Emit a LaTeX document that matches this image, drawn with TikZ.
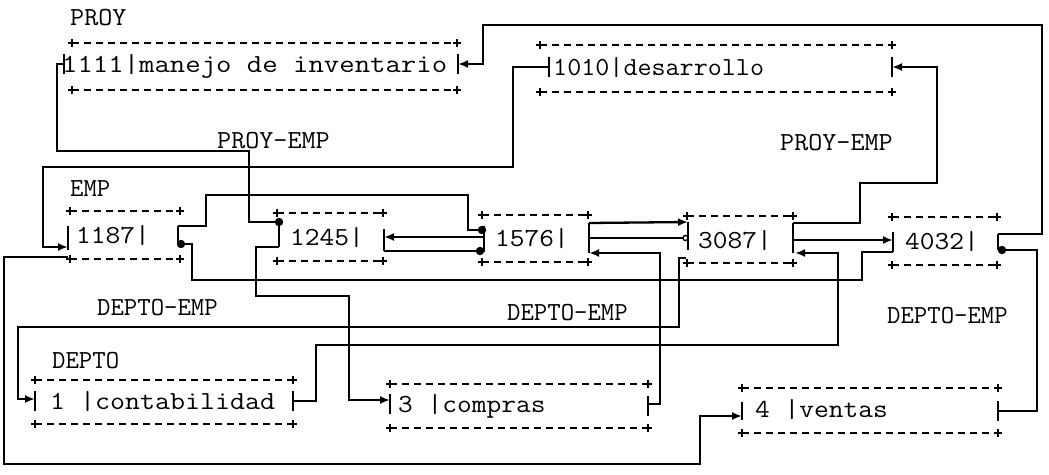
\documentclass[tikz,border=0pt]{standalone}
\usetikzlibrary{arrows.meta}
\newcommand\frm[4]{%
  \draw[dl] (#1,#3) -- (#2,#3) (#1,#4) -- (#2,#4);
  \foreach \xx in {#1,#2}{\foreach \yy in {#3,#4}{%
    \draw[pl] (\xx-4,\yy) -- (\xx+4,\yy) (\xx,\yy-4) -- (\xx,\yy+4);}}}
\newcommand\sx[2]{\scalebox{#1}[1]{#2}}
\begin{document}
\begin{tikzpicture}[x=1pt,y=-1pt,
  conn/.style={line width=2.3pt},
  tick/.style={line width=1.6pt},
  dl/.style={line width=1.4pt, dash pattern=on 7pt off 5pt},
  pl/.style={line width=1.3pt},
  arr/.style={-{Latex[length=10pt,width=8pt]}},
  lbl/.style={inner sep=0pt, anchor=base west, font=\fontsize{26}{28}\selectfont\ttfamily}]
\useasboundingbox[fill=white] (0,0) rectangle (1049,474);

% ---------- texts ----------
\node[lbl] (tproy) at (70,25) {\sx{1.05}{PROY}};
\node[lbl] (t1111) at (62,72) {\sx{1.15}{1111|manejo de inventario}};
\node[lbl] (t1010) at (553,75) {\sx{1.05}{1010|desarrollo}};
\node[lbl] (tpe1) at (217,148) {\sx{1.05}{PROY-EMP}};
\node[lbl] (tpe2) at (780,150) {\sx{1.05}{PROY-EMP}};
\node[lbl] (temp) at (70,196) {\sx{1.0}{EMP}};
\node[lbl] (t1187) at (76,243) {\sx{1.1}{1187|}};
\node[lbl] (t1245) at (290,245) {\sx{1.1}{1245|}};
\node[lbl] (t1576) at (495,246) {\sx{1.1}{1576|}};
\node[lbl] (t3087) at (698,248) {\sx{1.1}{3087|}};
\node[lbl] (t4032) at (905,249) {\sx{1.1}{4032|}};
\node[lbl] (tde1) at (97,315) {\sx{1.0}{DEPTO-EMP}};
\node[lbl] (tde2) at (507,320) {\sx{1.0}{DEPTO-EMP}};
\node[lbl] (tde3) at (887,323) {\sx{1.0}{DEPTO-EMP}};
\node[lbl] (tdepto) at (52,368) {\sx{1.0}{DEPTO}};
\node[lbl] (td1) at (50,409) {\sx{1.12}{1 |contabilidad}};
\node[lbl] (td3) at (398,412) {\sx{1.1}{3 |compras}};
\node[lbl] (td4) at (755,417) {\sx{1.1}{4 |ventas}};

% ---------- dashed frames ----------
\frm{72}{457}{43}{90}
\frm{540}{892}{45}{92}
\frm{70}{180}{211}{259}
\frm{277}{383}{213}{261}
\frm{482}{588}{215}{262}
\frm{687}{793}{216}{263}
\frm{892}{997}{217}{265}
\frm{35}{293}{380}{424}
\frm{390}{648}{384}{428}
\frm{742}{998}{388}{433}

% ---------- side ticks ----------
\draw[tick] (64,54) -- (64,74);   \draw[tick] (458,54) -- (458,74);
\draw[tick] (549,57) -- (549,77); \draw[tick] (892,57) -- (892,77);
\draw[tick] (68,226) -- (68,250); \draw[tick] (178,226) -- (178,244);
\draw[tick] (279,220) -- (279,247); \draw[tick] (384,229) -- (384,251);
\draw[tick] (484,226) -- (484,252); \draw[tick] (589,223) -- (589,253);
\draw[tick] (688,222) -- (688,250); \draw[tick] (793,223) -- (793,253);
\draw[tick] (893,232) -- (893,252); \draw[tick] (998,234) -- (998,250);
\draw[tick] (35,391) -- (35,411);   \draw[tick] (293,391) -- (293,411);
\draw[tick] (390,394) -- (390,414); \draw[tick] (648,396) -- (648,416);
\draw[tick] (742,402) -- (742,420); \draw[tick] (998,401) -- (998,421);

% ---------- attach points ----------
\coordinate (a1111L) at (64,64);   \coordinate (a1111R) at (458,64);
\coordinate (a1010L) at (549,67);  \coordinate (a1010R) at (892,67);
\coordinate (a1187L) at (68,247);  \coordinate (a1187Lb) at (68,257);
\coordinate (a1187Rt) at (178,226); \coordinate (a1187Rb) at (181,244);
\coordinate (a1245Lt) at (279,222); \coordinate (a1245Lb) at (279,247);
\coordinate (a1245Rm) at (384,237); \coordinate (a1245Rb) at (384,251);
\coordinate (a1576Lt) at (482,230); \coordinate (a1576Lm) at (484,237);
\coordinate (a1576Lb) at (480,251);
\coordinate (a1576Rt) at (589,223); \coordinate (a1576Rm) at (589,238);
\coordinate (a1576Rb) at (589,253);
\coordinate (a3087Lt) at (688,222); \coordinate (a3087Lm) at (688,238);
\coordinate (a3087Lb) at (686,258);
\coordinate (a3087Rt) at (793,223); \coordinate (a3087Rm) at (793,240);
\coordinate (a3087Rb) at (795,253);
\coordinate (a4032Lm) at (893,240); \coordinate (a4032Lb) at (893,252);
\coordinate (a4032Rt) at (998,234); \coordinate (a4032Rb) at (1002,250);
\coordinate (a1L) at (35,399);  \coordinate (a1R) at (293,401);
\coordinate (a3L) at (390,400); \coordinate (a3R) at (648,404);
\coordinate (a4L) at (742,416); \coordinate (a4R) at (998,411);

% ---------- connectors ----------
\draw[conn] (a1111L) -- (57,64) -- (57,151) -- (249,151) -- (249,222) -- (a1245Lt);
\fill (a1245Lt) circle (4.2);
\draw[conn,arr] (a1010L) -- (513,67) -- (513,167) -- (43,167) -- (43,247) -- (a1187L);
\draw[conn,arr] (a3087Rt) -- (860,223) -- (860,183) -- (937,183) -- (937,67) -- (a1010R);
\draw[conn,arr] (a4032Rt) -- (1042,234) -- (1042,25) -- (483,25) -- (483,64) -- (a1111R);
\draw[conn] (a1187Rt) -- (206,226) -- (206,195) -- (468,195) -- (468,230) -- (a1576Lt);
\fill (a1576Lt) circle (4.2);
\fill (a1187Rb) circle (4.2);
\draw[conn] (a1187Rb) -- (192,244) -- (192,280) -- (862,280) -- (862,252) -- (a4032Lb);
\fill (a4032Rb) circle (4.2);
\draw[conn] (a4032Rb) -- (1037,250) -- (1037,411) -- (a4R);
\draw[conn,arr] (a3087Rm) -- (a4032Lm);
\draw[conn,arr] (a1576Lm) -- (a1245Rm);
\draw[conn] (a1245Rb) -- (a1576Lb);
\fill (a1576Lb) circle (4.2);
\draw[conn,arr] (a1576Rt) -- (a3087Lt);
\draw[conn] (a1576Rm) -- (683,238);
\draw[line width=1.4pt] (685.5,238) circle (2.6);
\draw[conn,arr] (a3R) -- (660,404) -- (660,253) -- (a1576Rb);
\draw[conn,arr] (a3087Lb) -- (679,258) -- (679,327) -- (18,327) -- (18,399) -- (a1L);
\draw[conn,arr] (a1R) -- (316,401) -- (316,345) -- (838,345) -- (838,253) -- (a3087Rb);
\draw[conn,arr] (a1245Lb) -- (256,247) -- (256,296) -- (349,296) -- (349,400) -- (a3L);
\draw[conn,arr] (a1187Lb) -- (4,257) -- (4,464) -- (700,464) -- (700,416) -- (a4L);
\end{tikzpicture}
\end{document}
